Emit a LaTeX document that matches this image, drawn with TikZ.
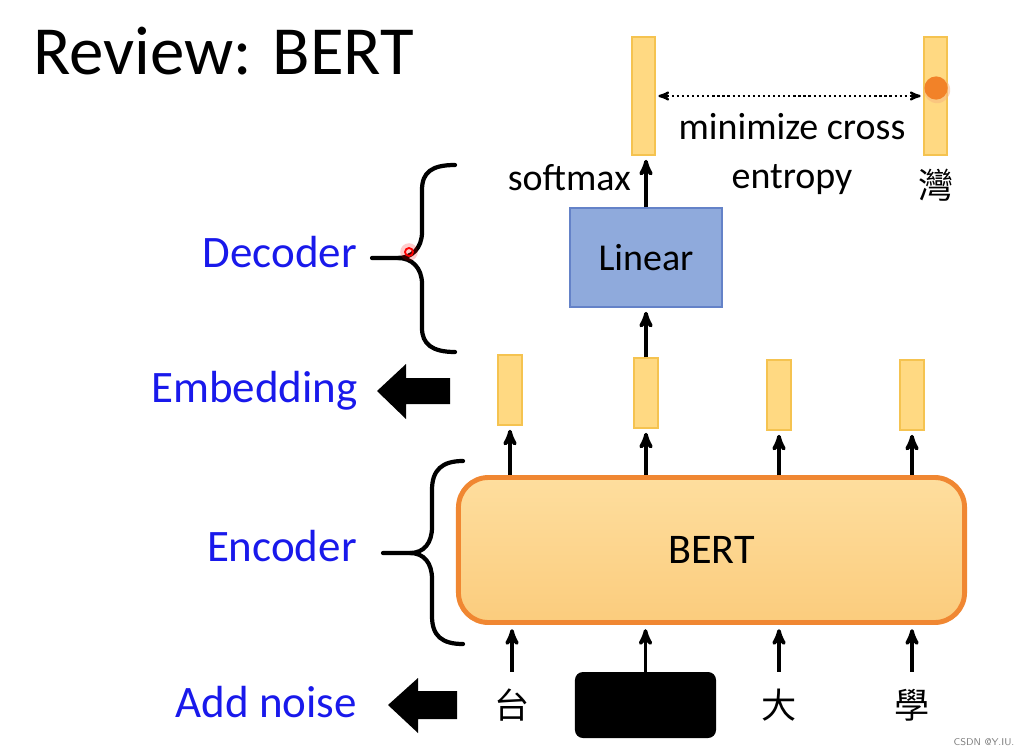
\documentclass[tikz,border=0pt]{standalone}
\usepackage{fontspec}
\setmainfont{Carlito}
\newfontfamily\cjk{Noto Sans CJK TC}
\usetikzlibrary{arrows,positioning}
\definecolor{barfill}{RGB}{255,217,130}
\definecolor{bardraw}{RGB}{245,195,80}
\definecolor{dotorange}{RGB}{242,130,40}
\definecolor{linfill}{RGB}{143,170,220}
\definecolor{lindraw}{RGB}{100,130,200}
\definecolor{berttop}{RGB}{254,222,158}
\definecolor{bertbot}{RGB}{251,204,125}
\definecolor{bertdraw}{RGB}{240,135,50}
\definecolor{labblue}{RGB}{25,25,235}

\begin{document}
\begin{tikzpicture}[x=0.025cm,y=-0.025cm,>=stealth',
            bar/.style={draw=bardraw,fill=barfill,line width=0.8pt,inner sep=0pt,minimum width=0.6cm},
            lab/.style={text=labblue,inner sep=0pt,font=\fontsize{32}{36}\selectfont},
            txt/.style={inner sep=0pt,font=\fontsize{27}{32}\selectfont},
            tok/.style={inner sep=0pt,minimum height=1.65cm,font=\cjk\fontsize{25}{28}\selectfont},
            brace/.style={line width=3pt,line cap=round}]
            \useasboundingbox (0,0) rectangle (1029,755);

            \node[inner sep=0pt,anchor=base west,font=\fontsize{49}{56}\selectfont] (title) at (33,75) {Review: BERT};

            % encoder
            \node[draw=bertdraw,line width=3.5pt,rounded corners=0.75cm,top color=berttop,bottom color=bertbot,
                  minimum width=12.65cm,minimum height=3.625cm,font=\fontsize{30}{34}\selectfont] (bert) at (711.5,550) {BERT};

            \node[tok] (t_1) at (512,705) {台};
            \node[fill=black,rounded corners=0.2cm,minimum width=3.525cm,minimum height=1.65cm] (t_2) at (645.5,705) {};
            \node[tok] (t_3) at (779,705) {大};
            \node[tok] (t_4) at (912,705) {學};

            \node[bar,minimum height=1.75cm] (e_1) at (510,390) {};
            \node[bar,minimum height=1.75cm] (e_2) at (646,393) {};
            \node[bar,minimum height=1.75cm] (e_3) at (779,395) {};
            \node[bar,minimum height=1.75cm] (e_4) at (912,395) {};

            % decoder
            \node[draw=lindraw,fill=linfill,line width=0.8pt,minimum width=3.8cm,minimum height=2.475cm,
                  font=\fontsize{27}{32}\selectfont] (lin) at (646,257.5) {Linear};
            \node[bar,minimum height=2.95cm,minimum width=0.575cm] (o_1) at (643.5,96) {};
            \node[bar,minimum height=2.95cm,minimum width=0.575cm] (o_2) at (935.5,96) {};
            \fill[dotorange!60,opacity=0.5] (937,90) circle[radius=0.33cm];
            \fill[dotorange] (936,88) circle[radius=0.29cm];
            \node[tok,minimum height=0pt] (wan) at (936,185) {灣};

            \node[txt,anchor=base east] (sm) at (631,190) {softmax};
            \node[txt,anchor=base] (mce_1) at (792,140) {minimize cross};
            \node[txt,anchor=base] (mce_2) at (792,188) {entropy};

            \path[->,line width=2.6pt,shorten >=3pt]
                (t_1.north) edge (t_1.north |- bert.south)
                (t_2.north) edge (t_2.north |- bert.south)
                (t_3.north) edge (t_3.north |- bert.south)
                (t_4.north) edge (t_4.north |- bert.south)

                (bert.north -| e_1) edge (e_1.south)
                (bert.north -| e_2) edge (e_2.south)
                (bert.north -| e_3) edge (e_3.south)
                (bert.north -| e_4) edge (e_4.south)

                (e_2.north) edge (lin.south)
                (lin.north) edge (lin.north |- o_1.south);
            \draw[<->,dotted,line width=1.6pt,shorten <=2pt,shorten >=2pt] (o_1.east) -- (o_2.west);

            % labels on the left
            \node[lab,anchor=base east] (dec) at (357,267) {Decoder};
            \node[lab,anchor=base east] (emb) at (358,402) {Embedding};
            \node[lab,anchor=base east] (enc) at (357,561) {Encoder};
            \node[lab,anchor=base east] (noise) at (357,717) {Add noise};

            \draw[brace] (372,258) -- (398,258) .. controls (412,258) and (422,248) .. (422,232) -- (422,190)
                .. controls (422,172) and (432,165) .. (455,165);
            \draw[brace] (398,258) .. controls (412,258) and (422,268) .. (422,284) -- (422,328)
                .. controls (422,344) and (432,352) .. (455,352);
            \draw[brace] (383,553) -- (410,553) .. controls (424,553) and (432,543) .. (432,527) -- (432,490)
                .. controls (432,470) and (442,461) .. (463,461);
            \draw[brace] (410,553) .. controls (424,553) and (432,563) .. (432,579) -- (432,616)
                .. controls (432,636) and (442,644) .. (463,644);

            \fill[red,opacity=0.2] (409,252) circle[radius=0.22cm];
            \draw[red,line width=1.3pt] (409,252) circle[radius=0.1cm];

            \fill (377,391) -- (406,364) -- (406,378) -- (450,378) -- (450,404) -- (406,404) -- (406,419) -- cycle;
            \fill (388,705) -- (418,678) -- (418,691) -- (457,691) -- (457,719) -- (418,719) -- (418,733) -- cycle;

            \node[text=gray,inner sep=0pt,font=\sffamily\fontsize{7}{8}\selectfont] (mark) at (984,742) {CSDN @Y.IU.};
\end{tikzpicture}
\end{document}
